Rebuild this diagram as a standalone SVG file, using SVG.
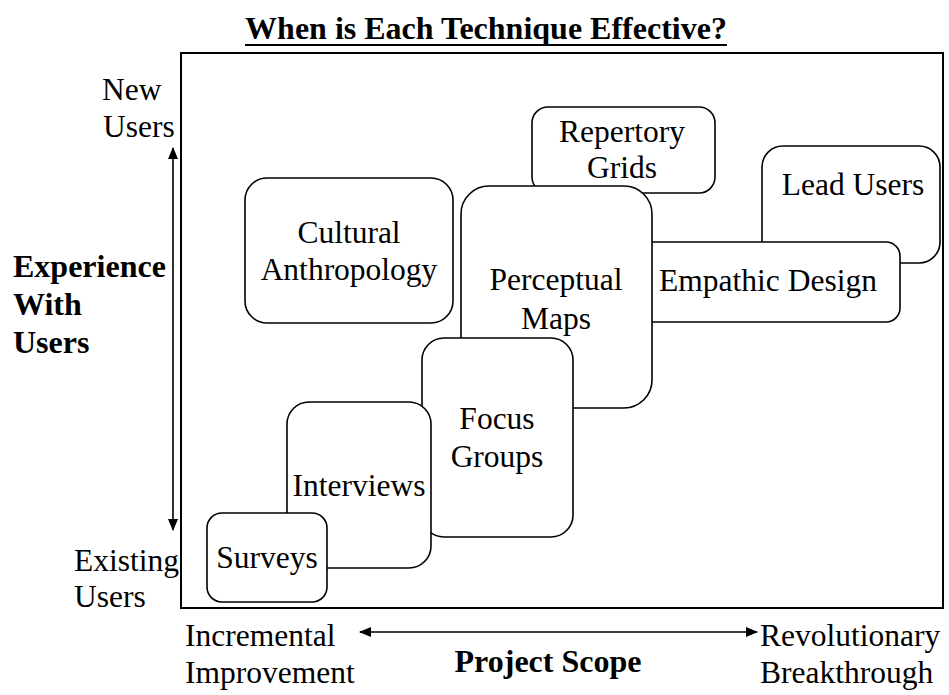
<svg xmlns="http://www.w3.org/2000/svg" width="949" height="695" viewBox="0 0 949 695">
<style>
text{font-family:'Liberation Serif','Times New Roman',serif;font-size:31.5px;fill:#000}
.b{font-weight:bold;font-size:32px}
.c{text-anchor:middle}
.box{fill:#fff;stroke:#000;stroke-width:1.6}
.ln{stroke:#000;stroke-width:1.6;fill:none}
</style>
<defs>
<marker id="ah" viewBox="0 0 12 10" refX="11" refY="5" markerWidth="12" markerHeight="10" markerUnits="userSpaceOnUse" orient="auto-start-reverse">
<path d="M0,0 L12,5 L0,10 Z" fill="#000"/>
</marker>
</defs>
<rect width="949" height="695" fill="#fff"/>
<text class="b c" x="486" y="39">When is Each Technique Effective?</text>
<line x1="245" y1="45" x2="727" y2="45" stroke="#000" stroke-width="2"/>
<rect x="181" y="53" width="762" height="555" fill="none" stroke="#000" stroke-width="2"/>
<g id="connectors">
<line class="ln" x1="173" y1="148" x2="173" y2="530" marker-start="url(#ah)" marker-end="url(#ah)"/>
<line class="ln" x1="360" y1="632" x2="757" y2="632" marker-start="url(#ah)" marker-end="url(#ah)"/>
</g>
<g id="axis-labels">
<text x="102" y="100">New</text>
<text x="103" y="137">Users</text>
<text class="b" x="13" y="277">Experience</text>
<text class="b" x="13" y="315">With</text>
<text class="b" x="13" y="353">Users</text>
<text x="74" y="571">Existing</text>
<text x="74" y="607">Users</text>
<text x="185" y="646">Incremental</text>
<text x="185" y="683">Improvement</text>
<text class="b c" x="548" y="672">Project Scope</text>
<text x="760" y="646">Revolutionary</text>
<text x="760" y="683">Breakthrough</text>
</g>
<g id="repertory-grids">
<rect class="box" x="532" y="107" width="183" height="86" rx="16"/>
<text class="c" x="622" y="142">Repertory</text>
<text class="c" x="622" y="178">Grids</text>
</g>
<g id="lead-users">
<rect class="box" x="762" y="146" width="178" height="117" rx="21"/>
<text class="c" x="853" y="195">Lead Users</text>
</g>
<g id="empathic-design">
<rect class="box" x="630" y="242" width="270" height="80" rx="14"/>
<text class="c" x="768" y="291">Empathic Design</text>
</g>
<g id="perceptual-maps">
<rect class="box" x="461" y="186" width="191" height="222" rx="28"/>
<text class="c" x="556" y="290">Perceptual</text>
<text class="c" x="556" y="329">Maps</text>
</g>
<g id="focus-groups">
<rect class="box" x="422" y="338" width="151" height="199" rx="22"/>
<text class="c" x="497" y="429">Focus</text>
<text class="c" x="497" y="467">Groups</text>
</g>
<g id="interviews">
<rect class="box" x="287" y="402" width="144" height="166" rx="22"/>
<text class="c" x="359" y="496">Interviews</text>
</g>
<g id="surveys">
<rect class="box" x="207" y="513" width="120" height="89" rx="15"/>
<text class="c" x="267" y="568">Surveys</text>
</g>
<g id="cultural-anthropology">
<rect class="box" x="245" y="178" width="208" height="145" rx="22"/>
<text class="c" x="349" y="243">Cultural</text>
<text class="c" x="349" y="280">Anthropology</text>
</g>
</svg>
